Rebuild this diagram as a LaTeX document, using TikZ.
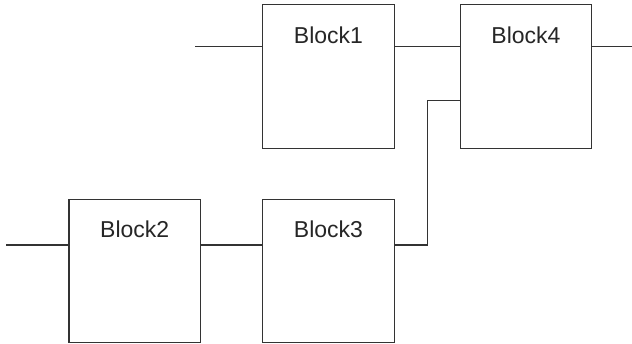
\documentclass[tikz,border=0pt]{standalone}
\usepackage{fontspec}
\setmainfont{Liberation Sans}
\begin{document}
\begin{tikzpicture}[x=1pt,y=-1pt,
  blk/.style={draw=black!80, line width=1.3pt, minimum width=131.5pt, minimum height=143.5pt, inner sep=0pt},
  lbl/.style={font=\fontsize{23}{23}\selectfont, text=black!85, anchor=base},
  wire/.style={draw=black!80, line width=1.3pt}]
\useasboundingbox (0,0) rectangle (632,344);
\node[blk] (b1) at (328.5,76.5) {};
\node[blk] (b4) at (526,76.5) {};
\node[blk] (b2) at (134.7,271) {};
\node[blk] (b3) at (328.5,271) {};
\node[lbl] (t1) at (328.5,43.5) {Block1};
\node[lbl] (t4) at (526,43.5) {Block4};
\node[lbl] (t2) at (134.7,238) {Block2};
\node[lbl] (t3) at (328.5,238) {Block3};
\coordinate (in1) at (195,46.7);
\coordinate (out4) at (632,46.7);
\coordinate (in2) at (6,245);
\coordinate (k) at (427.5,245);
\draw[wire] (in1) -- (in1 -| b1.west);
\draw[wire] (b1.east |- in1) -- (b4.west |- in1);
\draw[wire] (b4.east |- in1) -- (out4);
\draw[wire] (in2) -- (in2 -| b2.west);
\draw[wire] (b2.east |- in2) -- (b3.west |- in2);
\draw[wire] (b3.east |- k) -- (k) -- (427.5,100.7) -- (b4.west |- {(0,100.7)});
\end{tikzpicture}
\end{document}
